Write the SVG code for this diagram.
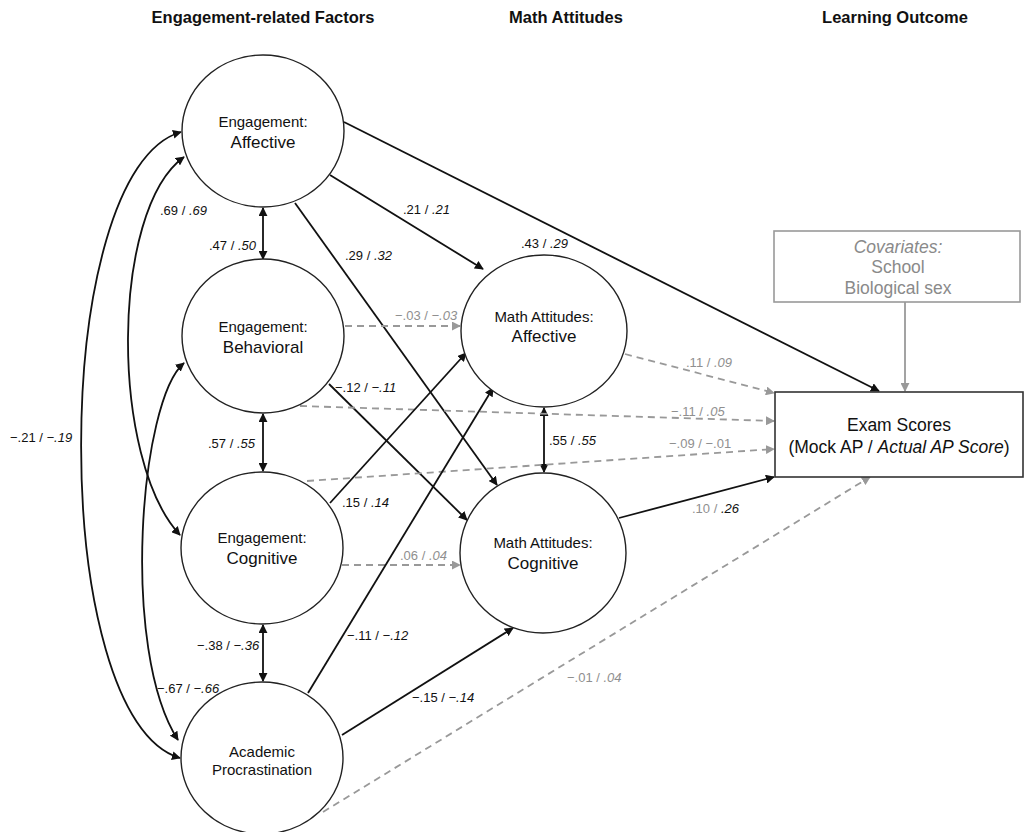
<svg xmlns="http://www.w3.org/2000/svg" width="1025" height="832" viewBox="0 0 1025 832">
<style>
.bg{fill:#fff}
.head{font-family:"Liberation Sans",Arial,sans-serif;font-weight:bold;font-size:16.5px;fill:#111;text-anchor:middle}
.node{fill:#fff;stroke:#222;stroke-width:1.4}
.l1{font-family:"Liberation Sans",Arial,sans-serif;font-size:15px;fill:#111;text-anchor:middle}
.l2{font-family:"Liberation Sans",Arial,sans-serif;font-size:17px;fill:#111;text-anchor:middle}
.box{fill:#fff;stroke:#333;stroke-width:1.6}
.cbox{fill:#fff;stroke:#999;stroke-width:1.6}
.ex{font-family:"Liberation Sans",Arial,sans-serif;font-size:17.5px;fill:#111;text-anchor:middle}
.cv{font-family:"Liberation Sans",Arial,sans-serif;font-size:17.5px;fill:#8a8a8a;text-anchor:middle}
.e{fill:none;stroke:#111;stroke-width:1.8;marker-end:url(#ab)}
.d{fill:none;stroke:#111;stroke-width:1.8;marker-start:url(#ab);marker-end:url(#ab)}
.g{fill:none;stroke:#999;stroke-width:1.8;stroke-dasharray:7 5;marker-end:url(#ag)}
.gs{fill:none;stroke:#999;stroke-width:1.8;marker-end:url(#ag)}
.lb{font-family:"Liberation Sans",Arial,sans-serif;font-size:13px;fill:#111}
.lg{font-family:"Liberation Sans",Arial,sans-serif;font-size:13px;fill:#8f8f8f}
.i{font-style:italic}
.k{fill:#111}
</style>
<defs>
<marker id="ab" viewBox="0 0 10 10" refX="9" refY="5" markerWidth="9" markerHeight="9" markerUnits="userSpaceOnUse" orient="auto-start-reverse"><path d="M0,0 L10,5 L0,10 z" fill="#111"/></marker>
<marker id="ag" viewBox="0 0 10 10" refX="9" refY="5" markerWidth="9" markerHeight="9" markerUnits="userSpaceOnUse" orient="auto-start-reverse"><path d="M0,0 L10,5 L0,10 z" fill="#999"/></marker>
</defs>
<rect class="bg" x="0" y="0" width="1025" height="832"/>
<g id="headings">
<text class="head" x="263" y="23">Engagement-related Factors</text>
<text class="head" x="566" y="23">Math Attitudes</text>
<text class="head" x="895" y="23">Learning Outcome</text>
</g>
<g id="connectors">
<path class="d" d="M184,157 C110,210 110,460 180,535"/>
<path class="d" d="M181,132 C48,170 48,720 180,758"/>
<path class="d" d="M184,363 C140,400 120,650 178,740"/>
<path class="d" d="M263,208 L263,259"/>
<path class="d" d="M263,414 L263,471"/>
<path class="d" d="M263,625 L263,681"/>
<path class="d" d="M544,408 L544,472"/>
<path class="e" d="M344,122 L879,391"/>
<path class="e" d="M330,175 L483,269"/>
<path class="e" d="M295,203 L497,485"/>
<path class="g" d="M345,326 L460,326"/>
<path class="e" d="M329,384 L467,520"/>
<path class="g" d="M300,406 L774,421"/>
<path class="g" d="M307,481 L774,449"/>
<path class="e" d="M330,503 L466,353"/>
<path class="g" d="M342,565 L460,565"/>
<path class="e" d="M308,693 L493,388"/>
<path class="e" d="M342,735 L513,628"/>
<path class="g" d="M323,812 L870,477"/>
<path class="g" d="M625,354 L774,393"/>
<path class="e" d="M619,518 L774,477"/>
<path class="gs" d="M905,302 L905,391"/>
</g>
<g id="edge-labels">
<text class="lb" x="160" y="215">.69 / <tspan class="i">.69</tspan></text>
<text class="lb" x="10" y="442">−.21 / <tspan class="i">−.19</tspan></text>
<text class="lb" x="157" y="693">−.67 / <tspan class="i">−.66</tspan></text>
<text class="lb" x="209" y="250">.47 / <tspan class="i">.50</tspan></text>
<text class="lb" x="208" y="448">.57 / <tspan class="i">.55</tspan></text>
<text class="lb" x="197" y="650">−.38 / <tspan class="i">−.36</tspan></text>
<text class="lb" x="549" y="445">.55 / <tspan class="i">.55</tspan></text>
<text class="lb" x="521" y="248">.43 / <tspan class="i">.29</tspan></text>
<text class="lb" x="403" y="214">.21 / <tspan class="i">.21</tspan></text>
<text class="lb" x="345" y="260">.29 / <tspan class="i">.32</tspan></text>
<text class="lg" x="395" y="320">−.03 / <tspan class="i">−.03</tspan></text>
<text class="lb" x="335" y="392">−.12 / <tspan class="i">−.11</tspan></text>
<text class="lg" x="671" y="416">−.11 / <tspan class="i">.05</tspan></text>
<text class="lg" x="669" y="448">−.09 / −.01</text>
<text class="lb" x="342" y="507">.15 / <tspan class="i">.14</tspan></text>
<text class="lg" x="400" y="560">.06 / <tspan class="i">.04</tspan></text>
<text class="lb" x="347" y="640">−.11 / <tspan class="i">−.12</tspan></text>
<text class="lb" x="412" y="702">−.15 / <tspan class="i">−.14</tspan></text>
<text class="lg" x="567" y="682">−.01 / <tspan class="i">.04</tspan></text>
<text class="lg" x="686" y="367">.11 / <tspan class="i">.09</tspan></text>
<text class="lg" x="692" y="513">.10 / <tspan class="i k">.26</tspan></text>
</g>
<g id="eng-affective">
<ellipse class="node" cx="263" cy="131" rx="81" ry="76"/>
<text class="l1" x="263" y="127">Engagement:</text>
<text class="l2" x="263" y="148">Affective</text>
</g>
<g id="eng-behavioral">
<ellipse class="node" cx="263" cy="336" rx="81" ry="77"/>
<text class="l1" x="263" y="332">Engagement:</text>
<text class="l2" x="263" y="353">Behavioral</text>
</g>
<g id="eng-cognitive">
<ellipse class="node" cx="262" cy="548" rx="81" ry="76"/>
<text class="l1" x="262" y="543">Engagement:</text>
<text class="l2" x="262" y="564">Cognitive</text>
</g>
<g id="procrastination">
<ellipse class="node" cx="262" cy="758" rx="81" ry="76"/>
<text class="l1" x="262" y="757">Academic</text>
<text class="l1" x="262" y="775">Procrastination</text>
</g>
<g id="ma-affective">
<ellipse class="node" cx="544" cy="331" rx="83" ry="76"/>
<text class="l1" x="544" y="322">Math Attitudes:</text>
<text class="l2" x="544" y="342">Affective</text>
</g>
<g id="ma-cognitive">
<ellipse class="node" cx="543" cy="553" rx="83" ry="80"/>
<text class="l1" x="543" y="548">Math Attitudes:</text>
<text class="l2" x="543" y="569">Cognitive</text>
</g>
<g id="covariates">
<rect class="cbox" x="774" y="231" width="246" height="71"/>
<text class="cv" x="898" y="253"><tspan class="i">Covariates:</tspan></text>
<text class="cv" x="898" y="273">School</text>
<text class="cv" x="898" y="294">Biological sex</text>
</g>
<g id="exam-scores">
<rect class="box" x="775" y="392" width="248" height="85"/>
<text class="ex" x="899" y="431">Exam Scores</text>
<text class="ex" x="899" y="453">(Mock AP / <tspan class="i">Actual AP Score</tspan>)</text>
</g>
</svg>
